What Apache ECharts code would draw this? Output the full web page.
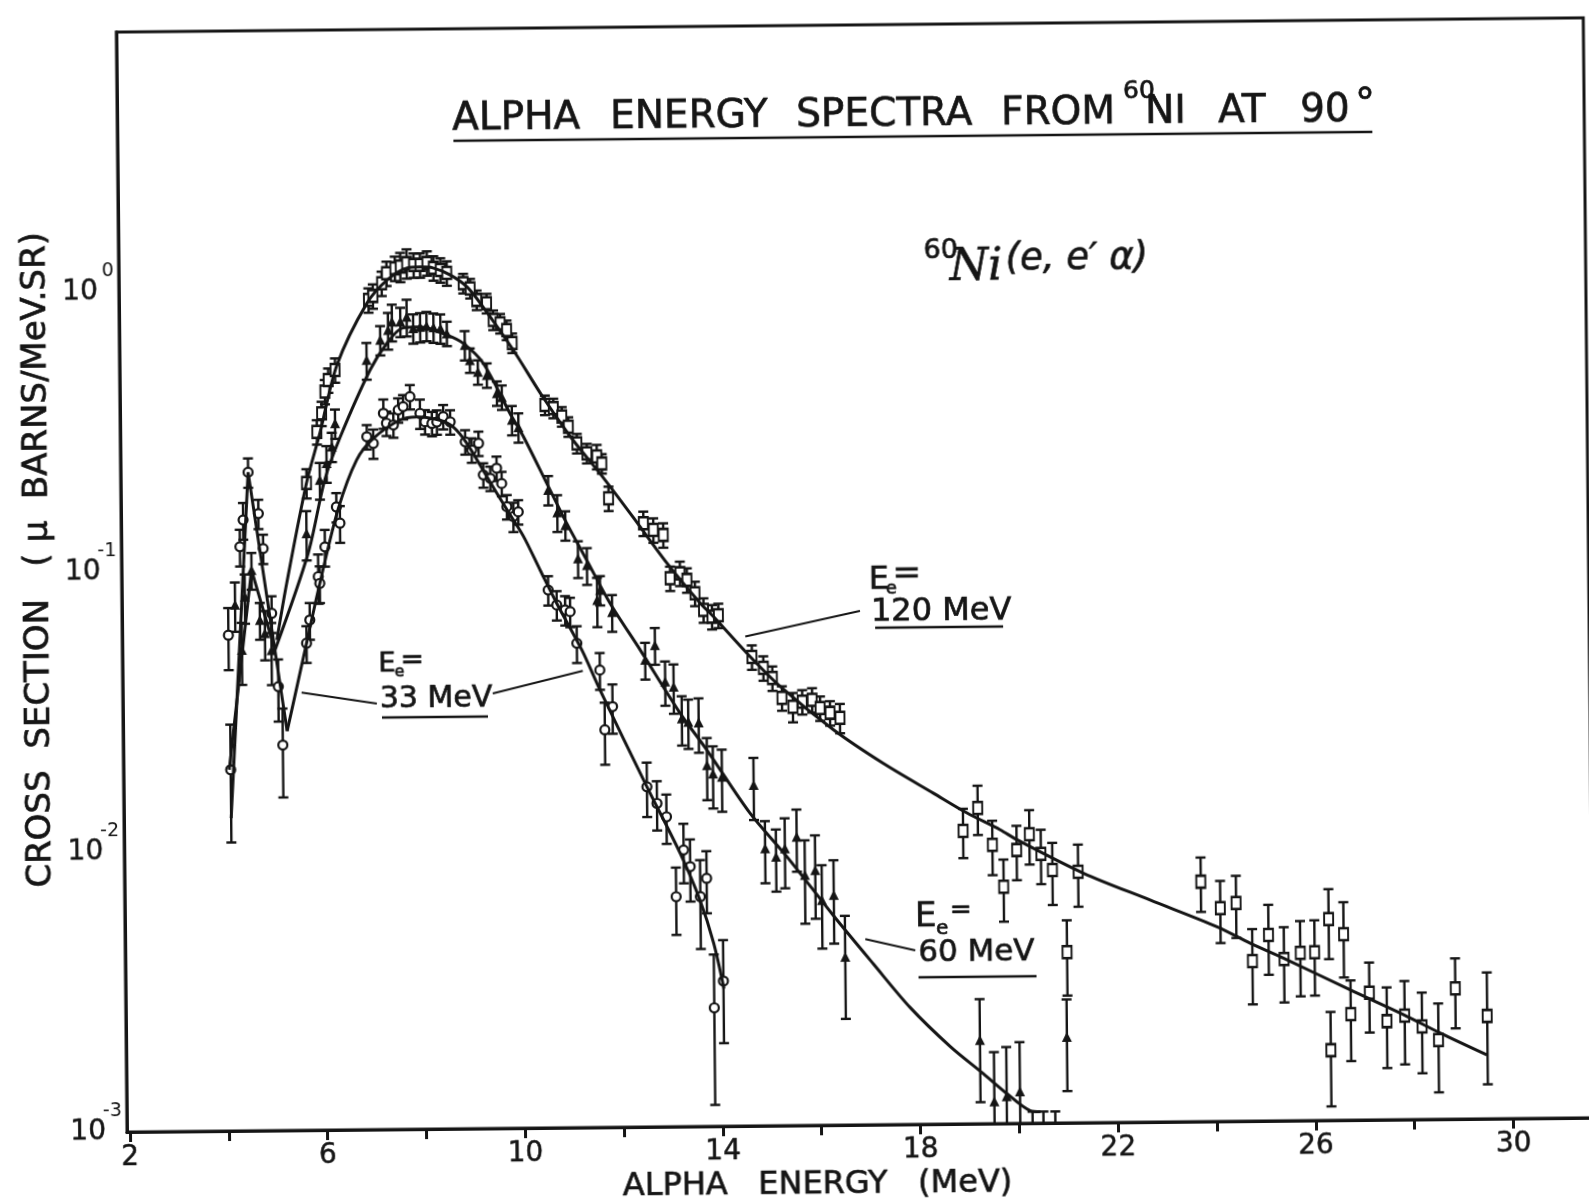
<!DOCTYPE html>
<html>
<head>
<meta charset="utf-8">
<script src="https://cdn.jsdelivr.net/npm/echarts@6/dist/echarts.min.js"></script>
<style>
  html, body { margin: 0; padding: 0; background: #fff; overflow: hidden; width: 1589px; height: 1200px; }
  /* the plate was photographed slightly tilted; keep the same tilt */
  #chart { position: absolute; left: 0; top: 0; width: 1620px; height: 1240px;
           transform: rotate(-0.556deg); transform-origin: 130px 1132px; }
</style>
</head>
<body>
<div id="chart"></div>
<script>
// ---------- axes ----------
const X_MIN = 1.94, X_MAX = 31.63;
const Y_MIN = 0.001, Y_MAX = 8.486;
const xTickValues = [2, 4, 6, 8, 10, 12, 14, 16, 18, 20, 22, 24, 26, 28, 30];
const xLabelValues = [2, 6, 10, 14, 18, 22, 26, 30];

// ---------- E_e = 120 MeV (squares) ----------
const e120 = [5.70,5.92,6.02,6.09,6.16,6.30, 6.99,7.08,7.26,7.36,7.53,7.64,7.77,7.91,8.04,8.18,8.31,8.45,8.58,
  8.91,9.05,9.18,9.38,9.51,9.65,9.78,9.89, 10.54,10.71,10.88,11.01,11.18,11.38,11.58,11.68,11.81,
  12.51,12.71,12.91,13.04,13.24,13.38,13.54,13.71,13.88,14.01, 14.68,14.91,15.09,15.28,15.50,15.69,15.89,16.05,16.25,16.45,
  18.92,19.22,19.51,19.73,20.00,20.26,20.49,20.72,21.00,21.24,
  23.72,24.11,24.43,24.75,25.08,25.39,25.72,26.01,26.30,26.32,26.60,26.73,27.11,27.46,27.82,28.17,28.50,28.85,29.49];
const v120 = [0.205,0.312,0.363,0.434,0.477,0.518, 0.919,0.949,1.053,1.143,1.19,1.205,1.24,1.22,1.22,1.24,1.19,1.17,1.14,
  1.046,1.003,0.911,0.886,0.772,0.75,0.71,0.638, 0.382,0.372,0.347,0.319,0.278,0.256,0.249,0.235,0.1765,
  0.1433,0.1355,0.130,0.091,0.0947,0.0896,0.0802,0.0699,0.0661,0.0668, 0.0473,0.0432,0.0397,0.0337,0.0313,0.0326,0.0331,0.0309,0.0297,0.0285,
  0.01112,0.01343,0.00989,0.00701,0.00947,0.01076,0.00915,0.00801,0.00407,0.00788,
  0.00719,0.00578,0.00602,0.00373,0.00462,0.00378,0.00397,0.00399,0.00523,0.00178,0.00462,0.00239,0.00285,0.00225,0.00235,0.00215,0.00192,0.00293,0.00233];
// relative statistical error of each point
const r120 = [0.12,0.1,0.1,0.1,0.1,0.1, 0.1,0.1,0.1,0.1,0.1,0.12,0.12,0.1,0.1,0.1,0.1,0.1,0.1,
  0.08,0.08,0.08,0.08,0.08,0.08,0.08,0.08, 0.08,0.08,0.08,0.08,0.08,0.08,0.1,0.08,0.1,
  0.1,0.1,0.1,0.1,0.1,0.1,0.1,0.1,0.1,0.1, 0.1,0.1,0.1,0.1,0.12,0.1,0.1,0.1,0.1,0.12,
  0.2,0.2,0.22,0.25,0.22,0.22,0.22,0.25,0.3,0.25,
  0.22,0.25,0.25,0.3,0.28,0.3,0.3,0.3,0.28,0.37,0.3,0.32,0.28,0.32,0.33,0.32,0.35,0.28,0.43];
const fit120E = [5.07,5.28,5.70,5.98,6.34,6.96,7.37,7.78,8.04,8.30,8.65,8.99,9.31,9.91,10.50,11.10,11.70,12.30,12.98,13.64,
  13.91,14.58,15.25,16.32,17.32,18.33,19.00,19.67,20.01,21.35,22.69,24.04,24.71,25.38,26.72,27.80,28.54,29.48];
const fit120V = [0.0565,0.090,0.205,0.308,0.540,0.896,1.081,1.191,1.20,1.19,1.121,1.014,0.859,0.602,0.408,0.286,0.210,0.151,0.103,0.0741,
  0.0661,0.0488,0.0370,0.0258,0.0195,0.0152,0.0129,0.0112,0.0103,0.00778,0.00621,0.00496,0.00432,0.00381,0.00292,0.00237,0.00203,0.00169];

// ---------- E_e = 60 MeV (triangles) ----------
const e60 = [4.23,4.36,4.43,4.57,4.73,4.83,4.96, 5.69,5.97,6.11,6.22,6.29,
  6.94,7.22,7.38,7.46,7.63,7.76,7.89,8.03,8.16,8.30,8.44,8.57,
  8.93,9.03,9.19,9.37,9.57,9.67,9.87,10.00, 10.59,10.77,10.93,11.18,11.36,11.56,11.62,11.86,
  12.52,12.72,12.92,13.09,13.25,13.38,13.59,13.75,13.87,14.05,
  14.69,14.91,15.13,15.31,15.55,15.71,15.92,16.05,16.29,16.51,
  19.22,19.50,19.75,20.02,20.27,20.49,20.73,20.98];
const v60 = [0.0758,0.0522,0.0809,0.1007,0.0667,0.0598,0.052, 0.1355,0.21,0.241,0.276,0.334,
  0.561,0.661,0.717,0.767,0.767,0.798,0.726,0.733,0.74,0.73,0.724,0.694,
  0.63,0.556,0.504,0.491,0.423,0.409,0.339,0.319, 0.19,0.158,0.142,0.108,0.102,0.0765,0.0831,0.0692,
  0.0466,0.0526,0.0389,0.0373,0.0287,0.0279,0.0277,0.0195,0.0182,0.0177,
  0.0165,0.0098,0.00914,0.00978,0.01075,0.00784,0.00816,0.00638,0.00664,0.00399,
  0.00199,0.0012,0.00125,0.0013,0.0008,0.0008,0.0008,0.00203];
const r60 = [0.2,0.25,0.2,0.15,0.15,0.2,0.25, 0.2,0.15,0.15,0.12,0.12,
  0.15,0.12,0.15,0.15,0.12,0.15,0.12,0.12,0.12,0.12,0.12,0.1,
  0.12,0.1,0.1,0.1,0.1,0.1,0.12,0.12, 0.12,0.15,0.12,0.15,0.15,0.2,0.12,0.15,
  0.15,0.15,0.18,0.2,0.2,0.2,0.22,0.25,0.25,0.25,
  0.25,0.25,0.25,0.28,0.25,0.33,0.33,0.33,0.33,0.4,
  0.4,0.5,0.5,0.5,0.375,0.375,0.375,0.36];
const fit60LowE = [4.08, 4.57, 5.03];
const fit60LowV = [0.0195, 0.1007, 0.052];
const fit60E = [5.03,5.72,6.07,6.39,7.01,7.36,7.68,8.03,8.57,8.90,9.30,9.83,10.10,10.56,10.96,11.36,11.82,12.42,13.22,13.75,
  14.61,15.35,16.28,17.08,17.81,18.62,19.28,19.75,20.22,20.43];
const fit60V = [0.052,0.115,0.21,0.298,0.517,0.644,0.728,0.733,0.684,0.638,0.541,0.358,0.295,0.201,0.144,0.106,0.0744,0.0506,0.0299,0.0221,
  0.0131,0.00913,0.00560,0.00375,0.00262,0.00189,0.00151,0.00128,0.00111,0.0011];

// ---------- E_e = 33 MeV (circles) ----------
const e33 = [4.09,4.11,4.34,4.41,4.52,4.72,4.81,4.97,5.09,5.17, 5.67,5.74,5.92,5.95,6.06,6.30,6.37,
  6.93,7.06,7.27,7.33,7.47,7.57,7.67,7.81,8.01,8.11, 8.25,8.35,8.48,8.62,8.92,9.05,9.19,9.28,9.42,9.55,
  9.65,9.75,9.88,9.98,10.57,10.74,10.91,11.01,11.14,11.60, 11.69,11.85,12.53,12.73,12.92,13.10,13.26,13.39,13.59,13.72,
  13.85,14.04];
const v33 = [0.059,0.0195,0.122,0.152,0.225,0.16,0.12,0.0704,0.0385,0.0238, 0.0549,0.0664,0.0948,0.0897,0.121,0.168,0.147,
  0.2985,0.2825,0.3614,0.333,0.328,0.371,0.381,0.4134,0.360,0.336, 0.331,0.335,0.35,0.335,0.284,0.2654,0.2803,0.216,0.21,0.228,
  0.201,0.166,0.153,0.159,0.0834,0.0737,0.0707,0.0697,0.0537,0.043, 0.0263,0.0318,0.0164,0.0143,0.0128,0.00663,0.00973,0.00848,0.00662,0.00769,
  0.00265,0.0033];
const r33 = [0.25,0.45,0.15,0.15,0.12,0.12,0.12,0.15,0.25,0.35, 0.15,0.15,0.2,0.15,0.15,0.12,0.15,
  0.1,0.12,0.12,0.1,0.1,0.1,0.1,0.1,0.12,0.1, 0.1,0.1,0.1,0.1,0.1,0.1,0.1,0.1,0.1,0.1,
  0.1,0.1,0.12,0.1,0.12,0.12,0.12,0.12,0.15,0.15, 0.25,0.2,0.22,0.2,0.2,0.27,0.24,0.25,0.35,0.25,
  0.55,0.4];
const fit33LowE = [4.11, 4.52, 5.26];
const fit33LowV = [0.0131, 0.225, 0.0267];
const fit33E = [5.26,5.67,5.95,6.34,6.72,7.06,7.61,7.95,8.41,8.68,8.95,9.35,9.75,10.08,10.41,10.74,11.24,11.60,12.53,13.19,13.58,13.85,14.05];
const fit33V = [0.0267,0.0549,0.0897,0.166,0.247,0.294,0.342,0.35,0.340,0.321,0.281,0.213,0.162,0.130,0.0984,0.0747,0.0508,0.0365,0.0164,0.00947,0.00644,0.00451,0.0031];

// ---------- helpers ----------
const INK = '#151515';
const FONT = 'DejaVu Sans';
const pairs = (a, b) => a.map((x, i) => [x, b[i]]);

function errorBars(E, V, R) {
  return {
    type: 'custom', clip: true, z: 3,
    data: E.map((e, i) => [e, V[i], V[i] * R[i]]),
    renderItem(params, api) {
      const e = api.value(0), v = api.value(1), s = api.value(2);
      const top = api.coord([e, v + s]);
      const bot = api.coord([e, Math.max(v - s, 1e-6)]);
      const c = 5, st = { stroke: INK, lineWidth: 2.4 };
      return { type: 'group', children: [
        { type: 'line', shape: { x1: top[0], y1: top[1], x2: bot[0], y2: bot[1] }, style: st },
        { type: 'line', shape: { x1: top[0] - c, y1: top[1], x2: top[0] + c, y2: top[1] }, style: st },
        { type: 'line', shape: { x1: bot[0] - c, y1: bot[1], x2: bot[0] + c, y2: bot[1] }, style: st }
      ] };
    }
  };
}
function points(E, V, symbol, size, filled) {
  return {
    type: 'scatter', z: 4, clip: true, symbol, symbolSize: size,
    data: pairs(E, V),
    itemStyle: { color: filled ? INK : '#fff', borderColor: INK, borderWidth: filled ? 0 : 2.2, opacity: 1 }
  };
}
function curve(E, V, smooth) {
  return {
    type: 'line', z: 5, data: pairs(E, V), showSymbol: false, smooth,
    lineStyle: { color: INK, width: 3 }
  };
}
function txt(x, y, text, size, opt = {}) {
  return {
    type: 'text', x, y, rotation: opt.rot || 0, z: 20, silent: true,
    style: {
      text, fontSize: size, fontFamily: opt.family || FONT, fontStyle: opt.italic ? 'italic' : 'normal',
      fill: INK, stroke: INK, lineWidth: opt.weight == null ? 0.7 : opt.weight,
      align: opt.align || 'left', verticalAlign: 'middle',
      textAlign: opt.align || 'left', textVerticalAlign: 'middle'
    }
  };
}
function seg(x1, y1, x2, y2, w) {
  return { type: 'line', z: 20, silent: true, shape: { x1, y1, x2, y2 }, style: { stroke: INK, lineWidth: w || 2.5 } };
}

const chart = echarts.init(document.getElementById('chart'), null, { renderer: 'canvas' });

const option = {
  animation: false,
  backgroundColor: '#fff',
  grid: { left: 127, top: 32, width: 1467, height: 1100, show: true, borderColor: INK, borderWidth: 3, backgroundColor: 'transparent' },
  xAxis: {
    type: 'value', min: X_MIN, max: X_MAX,
    axisLine: { lineStyle: { color: INK, width: 3 } },
    axisTick: { show: true, length: 10, customValues: xTickValues, lineStyle: { color: INK, width: 3 } },
    axisLabel: { customValues: xLabelValues, margin: 12, color: INK, fontFamily: FONT, fontSize: 28,
                 textBorderColor: INK, textBorderWidth: 0.5 },
    splitLine: { show: false }
  },
  yAxis: {
    type: 'log', logBase: 10, min: Y_MIN, max: Y_MAX,
    axisLine: { show: true, lineStyle: { color: INK, width: 3 } },
    axisTick: { show: false },
    splitLine: { show: false },
    axisLabel: {
      margin: 5, color: INK, fontFamily: FONT,
      formatter(v) {
        const l = Math.log10(v), p = Math.round(l);
        if (Math.abs(l - p) > 1e-6) return '';
        return '{s|' + p + '}\n{b|10}\n{s| }';
      },
      rich: {
        b: { fontSize: 28, lineHeight: 26, padding: [0, 16, 0, 0], fontFamily: FONT, color: INK, textBorderColor: INK, textBorderWidth: 0.5 },
        s: { fontSize: 19, lineHeight: 16, fontFamily: FONT, color: INK }
      }
    }
  },
  series: [
    errorBars(e120, v120, r120), errorBars(e60, v60, r60), errorBars(e33, v33, r33),
    curve(fit120E, fit120V, 0.3),
    curve(fit60LowE, fit60LowV, false), curve(fit60E, fit60V, 0.3),
    curve(fit33LowE, fit33LowV, false), curve(fit33E, fit33V, 0.3),
    points(e120, v120, 'rect', [9, 12], false),
    points(e60, v60, 'triangle', 10, true),
    points(e33, v33, 'circle', 9, false)
  ]
};
chart.setOption(option);

// ---------- titles and annotations ----------
const px = (e, v) => chart.convertToPixel({ xAxisIndex: 0, yAxisIndex: 0 }, [e, v]);
const p120 = px(14.55, 0.056), p33a = px(5.56, 0.0366), p33b = px(11.255, 0.0428), p60 = px(16.92, 0.00461);

const graphics = [
  // plot title
  txt(462, 123, 'ALPHA', 39), txt(620, 123, 'ENERGY', 39), txt(806, 123, 'SPECTRA', 39), txt(1011, 123, 'FROM', 39),
  txt(1133, 101, '60', 25), txt(1155, 123, 'NI', 39), txt(1228, 123, 'AT', 39), txt(1310, 123, '90', 39),
  txt(1365, 119, '°', 40),
  seg(463, 144, 1382, 144, 2.5),
  // reaction
  txt(932, 259, '60', 27), txt(958, 277, 'Ni', 44, { italic: true, family: 'DejaVu Serif' }),
  txt(1014, 268, '(e, e′ α)', 37, { italic: true }),
  // axis titles
  txt(817, 1192, 'ALPHA   ENERGY   (MeV)', 32, { align: 'center' }),
  txt(44, 559, 'CROSS  SECTION   ( μ  BARNS/MeV.SR)', 34, { align: 'center', rot: Math.PI / 2 }),
  // 120 MeV
  txt(874, 588, 'E', 32), txt(891, 596, 'e', 18), txt(898, 582, '=', 34),
  txt(876, 620, '120 MeV', 32), seg(880, 635, 1008, 635, 2.5),
  seg(p120[0], p120[1], 865, 618, 2),
  // 33 MeV
  txt(383, 667, 'E', 27), txt(399, 675, 'e', 16), txt(405, 664, '=', 28),
  txt(384, 702, '33 MeV', 30), seg(386, 720, 492, 720, 2.5),
  seg(p33a[0], p33a[1], 381, 706, 2), seg(497, 697, p33b[0], p33b[1], 2),
  // 60 MeV
  txt(917, 925, 'E', 34), txt(938, 937, 'e', 20), txt(952, 919, '=', 26),
  txt(920, 961, '60 MeV', 31), seg(920, 985, 1038, 985, 2.5),
  seg(p60[0], p60[1], 917, 958, 2)
];
chart.setOption({ graphic: { elements: graphics } });
</script>
</body>
</html>
